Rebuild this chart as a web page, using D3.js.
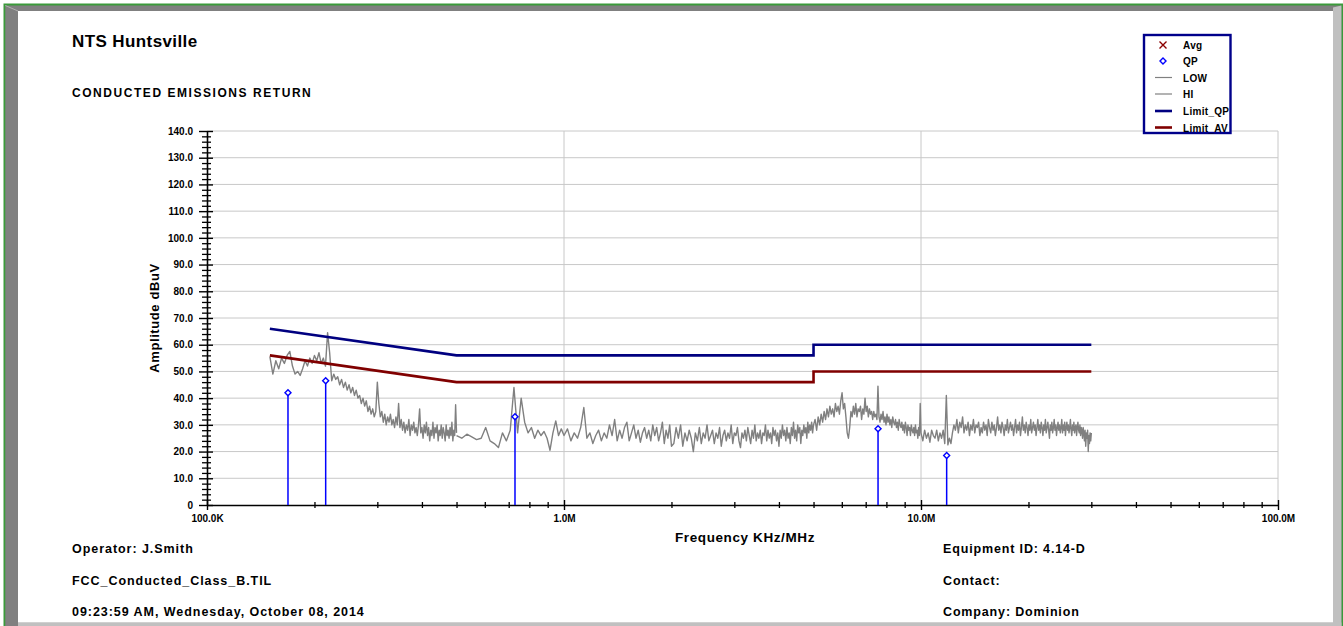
<!DOCTYPE html>
<html>
<head>
<meta charset="utf-8">
<script src="https://cdn.jsdelivr.net/npm/d3@7"></script>
<style>
  html, body { margin: 0; padding: 0; background: #fff; overflow: hidden; }
  svg { display: block; }
  text { font-family: "Liberation Sans", Arial, sans-serif; font-weight: bold; fill: #000; }
</style>
</head>
<body>
<svg id="chart" width="1343" height="626"></svg>
<script>
// ---------------- DATA ----------------
const titleText = "NTS Huntsville";
const captionText = "CONDUCTED EMISSIONS RETURN";
const footerLeft = ["Operator: J.Smith", "FCC_Conducted_Class_B.TIL", "09:23:59 AM, Wednesday, October 08, 2014"];
const footerRight = ["Equipment ID: 4.14-D", "Contact:", "Company: Dominion"];
const xTitle = "Frequency KHz/MHz";
const yTitle = "Amplitude dBuV";

// axis ticks (frequency in MHz)
const xMajorTicks = [0.1, 1, 10, 100];
const xTickLabels = ["100.0K", "1.0M", "10.0M", "100.0M"];
const yMajorTicks = [0, 10, 20, 30, 40, 50, 60, 70, 80, 90, 100, 110, 120, 130, 140];
const yTickLabels = ["0", "10.0", "20.0", "30.0", "40.0", "50.0", "60.0", "70.0", "80.0", "90.0", "100.0", "110.0", "120.0", "130.0", "140.0"];

// Limit lines: [MHz, dBuV]
const limitQP = [[0.15, 66], [0.5, 56], [5, 56], [5, 60], [30, 60]];
const limitAV = [[0.15, 56], [0.5, 46], [5, 46], [5, 50], [30, 50]];

// Quasi-peak measurements: [MHz, dBuV]
const qpPoints = [[0.1686, 42], [0.215, 46.5], [0.729, 33], [7.58, 28.5], [11.8, 18.5]];

// Sweep LOW band 0.15 - 0.5 MHz (linear sweep steps)
const lowSweep = [0.15, 0.5];
const lowValues = [
  55.5, 49, 54, 51, 55, 53, 56, 57.5, 52, 49,
  50, 48.5, 51, 54, 52, 55, 53, 56, 54, 57,
  53, 55, 52, 64.5, 57, 46.5, 49, 47, 48, 45,
  47, 44, 46, 43, 45, 42, 44, 41, 43, 40,
  41, 38, 40, 37, 39, 35, 37, 34, 36, 33,
  35, 46, 38, 33, 35, 31, 34, 30, 33, 31,
  34, 30, 32, 29, 33, 30, 38, 29, 32, 28,
  31, 27, 30, 28, 32, 26, 30, 28, 31, 27,
  29, 26, 30, 36, 27, 29, 25, 30, 27, 31,
  26, 29, 24, 28, 26, 31, 25, 29, 27, 30,
  24, 28, 26, 30, 25, 29, 27, 24, 30, 26,
  28, 25, 29, 26, 31, 24, 28, 26, 37.5, 27
];

// Sweep HI band 0.5 - 30 MHz, recorded in sub-sweeps
const hi1Sweep = [0.5, 1.0];
const hi1Values = [
  26, 25, 26.5, 25.5, 24.5, 25, 29, 24, 23, 21.5,
  27, 24, 28, 44, 27, 40, 31, 27, 29, 25,
  28, 26, 27.5, 25, 20.5, 27, 31.5, 26, 28.5, 26
];
const hi2Sweep = [1.0, 2.0];
const hi2Values = [
  26, 28.5, 24, 27, 25, 29, 36.5, 25, 27, 23,
  26, 28, 24, 27, 25, 30, 26, 32, 24, 28,
  25, 29, 31, 24, 27, 30, 25, 28, 23.5, 27,
  29, 25, 28, 24, 30, 26, 29, 24, 27, 31,
  23, 28, 25, 30, 22
];
const hi3Sweep = [2.0, 5.0];
const hi3Values = [
  27, 23, 29, 25, 30, 22, 27, 24, 28, 25,
  20, 27, 24, 29, 23, 27, 25, 30, 24, 26,
  28, 23, 27, 25, 29, 22, 26, 28, 24, 27,
  25, 30, 23, 27, 26, 29, 24, 21.5, 27, 25,
  28, 24, 29, 26, 23, 28, 25, 30, 24, 27,
  25, 28, 23, 27, 26, 30, 24, 28, 25, 27,
  23, 29, 26, 28, 24, 27, 22, 28, 25, 30,
  26, 28, 24, 29, 25, 27, 23, 29, 26, 31,
  25, 28, 24, 30, 27, 29, 23, 28, 26, 30,
  27, 29, 25, 31, 27, 30, 28, 31, 27, 30
];
const hi4Sweep = [5.0, 10.0];
const hi4Values = [
  29, 32, 28, 33, 30, 34, 31, 35, 32, 36,
  33, 37, 34, 36, 33, 38, 35, 37, 34, 39,
  42, 36, 38, 33, 27, 25, 29, 35, 33, 37,
  34, 38, 33, 36, 35, 37, 32, 36, 34, 40,
  35, 37, 33, 36, 34, 35, 32, 35, 33, 34,
  32, 44.5, 33, 31, 34, 32, 35, 31, 33, 30,
  34, 31, 33, 30, 32, 29, 33, 31, 30, 32,
  29, 31, 28, 32, 30, 29, 31, 28, 30, 27,
  31, 29, 26, 30, 28, 29, 26, 30, 28, 27,
  29, 26, 30, 27, 28, 25, 29, 26, 38, 27
];
const hi5Sweep = [10.0, 30.0];
const hi5Values = [
  27, 24, 28, 25, 27, 23.5, 28, 26, 25, 28,
  24, 27, 25, 28, 23, 41, 22.5, 25, 23, 27,
  30, 28, 32, 27, 31, 29, 33, 27, 30, 28,
  31, 26, 30, 28, 32, 27, 30, 29, 31, 26,
  29, 27, 31, 28, 30, 26, 32, 29, 27, 31,
  28, 30, 26, 29, 33, 28, 30, 27, 31, 29,
  26, 30, 28, 32, 27, 29, 31, 28, 30, 26,
  29, 32, 27, 30, 28, 31, 26, 29, 33, 28,
  30, 27, 31, 29, 26, 30, 28, 32, 27, 29,
  31, 28, 30, 26, 29, 32, 28, 30, 27, 31,
  29, 26, 30, 28, 32, 27, 29, 31, 28, 25,
  30, 28, 31, 27, 29, 32, 28, 30, 26, 29,
  31, 28, 30, 27, 29, 32, 27, 30, 28, 31,
  26, 29, 31, 28, 30, 27, 29, 32, 28, 26,
  30, 28, 31, 27, 29, 30, 26, 29, 31, 28,
  27, 30, 26, 29, 28, 25, 29, 27, 24, 28,
  22, 27, 25, 28, 20, 26, 23, 27, 24, 27
];

// ---------------- DRAW ----------------
const svg = d3.select("#chart");
const W = 1343, H = 626;

// frame
svg.append("rect").attr("x", 0).attr("y", 0).attr("width", W).attr("height", H).attr("fill", "#fff");
const frame = svg.append("g").attr("class", "frame");
frame.append("path").attr("d", "M3.5,3.5 H1343 V626 H3.5 Z").attr("fill", "#3a9a3a");
frame.append("path").attr("d", "M5.3,5.5 H1341.4 V626 H5.3 Z").attr("fill", "#808080");
frame.append("path").attr("d", "M1333,7.5 L1341.4,5.5 V626 H1333 Z").attr("fill", "#c0c0c0");
frame.append("path").attr("d", "M18,622.5 H1341.4 V626 H18 Z").attr("fill", "#c0c0c0");
frame.append("path").attr("d", "M18,11 H1333 V622.5 H18 Z").attr("fill", "#fff");
frame.append("path").attr("d", "M5.3,5.5 L18,11").attr("stroke", "#b0b0b0").attr("stroke-width", 1);

const x = d3.scaleLog().domain([0.1, 100]).range([207, 1278]);
const y = d3.scaleLinear().domain([0, 140]).range([505, 131]);

// gridlines
const grid = svg.append("g").attr("stroke", "#c8c8c8").attr("stroke-width", 1);
grid.append("g").selectAll("line").data(yMajorTicks.filter(v => v > 0)).join("line")
  .attr("x1", x(0.1)).attr("x2", x(100)).attr("y1", d => y(d)).attr("y2", d => y(d));
grid.append("g").selectAll("line").data(xMajorTicks.filter(v => v > 0.1)).join("line")
  .attr("x1", d => x(d)).attr("x2", d => x(d)).attr("y1", y(140)).attr("y2", y(0));

// Y axis
const yMinor = d3.range(0, 141, 2).filter(v => v % 10 !== 0);
svg.append("g").attr("transform", `translate(${x(0.1)},0)`)
  .call(d3.axisLeft(y).tickValues(yMinor).tickFormat("").tickSize(5).tickSizeOuter(0))
  .call(g => g.select(".domain").remove())
  .call(g => g.selectAll(".tick line").attr("x1", 4).attr("stroke-width", 1.3));
svg.append("g").attr("transform", `translate(${x(0.1)},0)`)
  .call(d3.axisLeft(y).tickValues(yMajorTicks).tickFormat((d, i) => yTickLabels[i]).tickSize(8).tickPadding(6).tickSizeOuter(0))
  .call(g => g.select(".domain").attr("stroke-width", 1.6))
  .call(g => g.selectAll(".tick line").attr("x1", 6).attr("stroke-width", 1.4))
  .call(g => g.selectAll(".tick text").attr("font-size", 10).attr("font-family", "'Liberation Sans', Arial, sans-serif").attr("font-weight", "bold"));

// X axis
const xMinor = [];
[0.1, 1, 10].forEach(dec => { for (let k = 2; k <= 9; k++) xMinor.push(dec * k); });
svg.append("g").attr("transform", `translate(0,${y(0)})`)
  .call(d3.axisBottom(x).tickValues(xMinor).tickFormat("").tickSize(3).tickSizeOuter(0))
  .call(g => g.select(".domain").remove())
  .call(g => g.selectAll(".tick line").attr("y1", -3).attr("stroke-width", 1.3));
svg.append("g").attr("transform", `translate(0,${y(0)})`)
  .call(d3.axisBottom(x).tickValues(xMajorTicks).tickFormat((d, i) => xTickLabels[i]).tickSize(5).tickPadding(5).tickSizeOuter(0))
  .call(g => g.select(".domain").attr("stroke-width", 1.6))
  .call(g => g.selectAll(".tick line").attr("y1", -5).attr("stroke-width", 1.4))
  .call(g => g.selectAll(".tick text").attr("font-size", 10).attr("font-family", "'Liberation Sans', Arial, sans-serif").attr("font-weight", "bold"));

// axis titles
svg.append("text").attr("x", 745).attr("y", 542).attr("text-anchor", "middle")
  .attr("font-size", 13.5).attr("letter-spacing", 0.6).text(xTitle);
svg.append("text").attr("transform", "translate(159,318) rotate(-90)").attr("text-anchor", "middle")
  .attr("font-size", 13).attr("letter-spacing", 0.6).text(yTitle);

// sweep traces
function sweep(range, values) {
  const n = values.length;
  return values.map((v, i) => [range[0] + i * (range[1] - range[0]) / (n - 1), v]);
}
const line = d3.line().x(d => x(d[0])).y(d => y(d[1]));
const traces = [
  sweep(lowSweep, lowValues),
  [].concat(sweep(hi1Sweep, hi1Values), sweep(hi2Sweep, hi2Values).slice(1),
            sweep(hi3Sweep, hi3Values).slice(1), sweep(hi4Sweep, hi4Values).slice(1),
            sweep(hi5Sweep, hi5Values).slice(1))
];
svg.append("g").selectAll("path").data(traces).join("path")
  .attr("d", line).attr("fill", "none").attr("stroke", "#808080").attr("stroke-width", 1.4)
  .attr("stroke-linejoin", "round");

// limit lines
svg.append("path").datum(limitQP).attr("d", line).attr("fill", "none").attr("stroke", "#000080").attr("stroke-width", 2.6);
svg.append("path").datum(limitAV).attr("d", line).attr("fill", "none").attr("stroke", "#800000").attr("stroke-width", 2.6);

// QP stems + markers
const qp = svg.append("g");
qp.selectAll("line").data(qpPoints).join("line")
  .attr("x1", d => x(d[0])).attr("x2", d => x(d[0]))
  .attr("y1", y(0)).attr("y2", d => y(d[1]))
  .attr("stroke", "#0000ff").attr("stroke-width", 1.5);
qp.selectAll("path").data(qpPoints).join("path")
  .attr("transform", d => `translate(${x(d[0])},${y(d[1])})`)
  .attr("d", "M0,-3 L3,0 L0,3 L-3,0 Z")
  .attr("fill", "#fff").attr("stroke", "#0000ff").attr("stroke-width", 1.4);

// titles
svg.append("text").attr("x", 72).attr("y", 47).attr("font-size", 17).attr("letter-spacing", 0.4).text(titleText);
svg.append("text").attr("x", 72).attr("y", 97).attr("font-size", 12).attr("letter-spacing", 1.55).text(captionText);

// footer
const fy = [553, 585, 616];
svg.append("g").selectAll("text").data(footerLeft).join("text")
  .attr("x", 72).attr("y", (d, i) => fy[i]).attr("font-size", 12.5).attr("letter-spacing", 0.95).text(d => d);
svg.append("g").selectAll("text").data(footerRight).join("text")
  .attr("x", 943).attr("y", (d, i) => fy[i]).attr("font-size", 12.5).attr("letter-spacing", 0.85).text(d => d);

// legend
const lg = svg.append("g");
lg.append("rect").attr("x", 1144).attr("y", 35).attr("width", 86.5).attr("height", 98)
  .attr("fill", "#fff").attr("stroke", "#00008b").attr("stroke-width", 2.4);
const legendItems = ["Avg", "QP", "LOW", "HI", "Limit_QP", "Limit_AV"];
const legendY = [45, 61, 77.5, 94, 111, 127.5];
lg.selectAll("text").data(legendItems).join("text")
  .attr("x", 1183).attr("y", (d, i) => legendY[i] + 4).attr("font-size", 10).attr("letter-spacing", 0.3).text(d => d);
// Avg marker (x)
lg.append("path").attr("d", `M1159.5,${legendY[0]-3.5} L1166.5,${legendY[0]+3.5} M1166.5,${legendY[0]-3.5} L1159.5,${legendY[0]+3.5}`)
  .attr("stroke", "#8b0000").attr("stroke-width", 1.4);
lg.append("path").attr("transform", `translate(1163,${legendY[1]})`).attr("d", "M0,-3 L3,0 L0,3 L-3,0 Z")
  .attr("fill", "#fff").attr("stroke", "#0000ff").attr("stroke-width", 1.4);
lg.append("line").attr("x1", 1155).attr("x2", 1172).attr("y1", legendY[2]).attr("y2", legendY[2]).attr("stroke", "#808080").attr("stroke-width", 1.2);
lg.append("line").attr("x1", 1155).attr("x2", 1172).attr("y1", legendY[3]).attr("y2", legendY[3]).attr("stroke", "#808080").attr("stroke-width", 1.2);
lg.append("line").attr("x1", 1155).attr("x2", 1172).attr("y1", legendY[4]).attr("y2", legendY[4]).attr("stroke", "#000080").attr("stroke-width", 2.6);
lg.append("line").attr("x1", 1155).attr("x2", 1172).attr("y1", legendY[5]).attr("y2", legendY[5]).attr("stroke", "#800000").attr("stroke-width", 2.6);
</script>
</body>
</html>
